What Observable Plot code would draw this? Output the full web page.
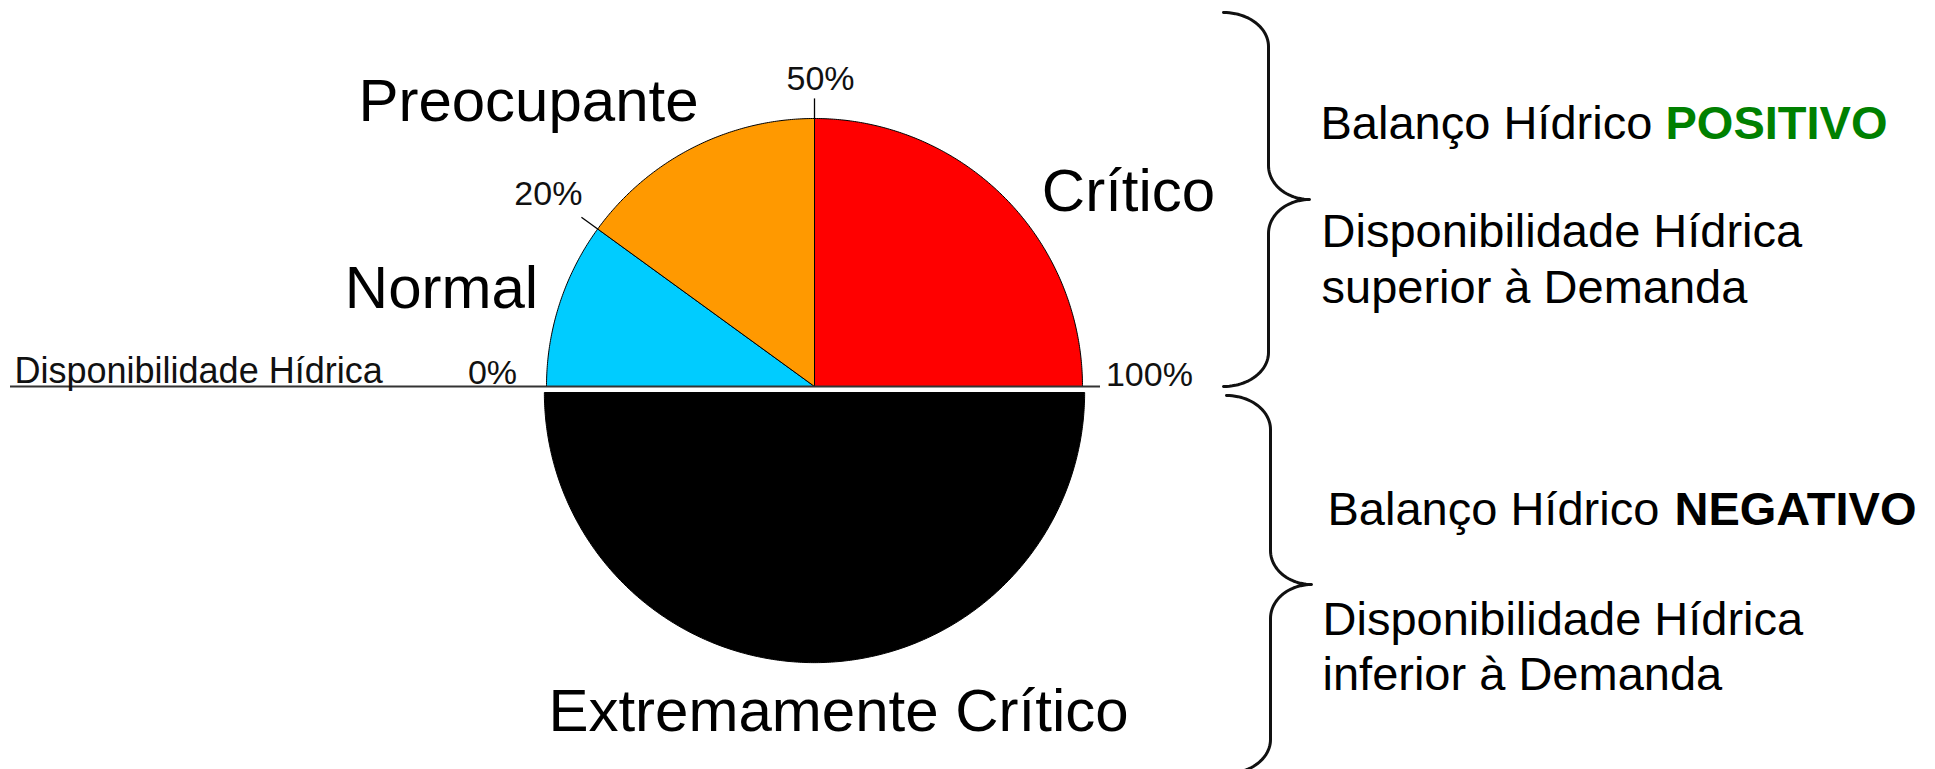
<!DOCTYPE html>
<html><head><meta charset="utf-8">
<script src="https://cdn.jsdelivr.net/npm/d3@7"></script>
<script src="https://cdn.jsdelivr.net/npm/@observablehq/plot@0.6"></script>
<style>html,body{margin:0;padding:0;background:#fff;} #chart svg{display:block}</style>
</head><body><div id="chart"></div>
<script>
// ---------------- DATA ----------------
const categories = ["Normal", "Preocupante", "Crítico", "Extremamente Crítico"];
const sliceStart = [0, 20, 50, 0];      // % Disponibilidade Hídrica
const sliceEnd   = [20, 50, 100, 100];
const sliceHalf  = ["positivo", "positivo", "positivo", "negativo"];
const sliceColors = ["#00CCFF", "#FF9900", "#FF0000", "#000000"];
const tickValues = [0, 20, 50, 100];
const tickLabels = ["0%", "20%", "50%", "100%"];
const axisLabel = "Disponibilidade Hídrica";
const sideTitle = ["Balanço Hídrico", "Balanço Hídrico"];
const sideStatus = ["POSITIVO", "NEGATIVO"];
const sideStatusColors = ["#008000", "#000000"];
const sideLine1 = ["Disponibilidade Hídrica", "Disponibilidade Hídrica"];
const sideLine2 = ["superior à Demanda", "inferior à Demanda"];

// ---------------- LAYOUT (pixels) ----------------
const W = 1935, H = 769, CX = 814, CY = 386, R = 268;
const ux = px => (px - CX) / R, uy = py => (CY - py) / R;
const FONT = "Liberation Sans, Arial, Helvetica, sans-serif";
const halves = {positivo: {cy: 0, r: 1}, negativo: {cy: uy(392), r: 1.008}};
const angle = (p, half) => half === "positivo" ? Math.PI * (1 - p / 100) : Math.PI * (1 + p / 100);
const catLabelPx = [[441, 307], [528, 120], [1128, 210], [838, 730]];
const tickLabelStyle = [
  {textAnchor: "end", dx: -8, dy: -3},
  {textAnchor: "middle", dx: -32, dy: -11},
  {textAnchor: "middle", dx: 6, dy: -7},
  {textAnchor: "start", dx: 2, dy: -1}
];
const sideTitlePx = [[1320, 138], [1327, 524]];
const sideStatusEnd = [1887, 1916];
const sideLine1Px = [[1321, 246], [1322, 634]];
const sideLine2Px = [[1321, 302], [1322, 689]];
const braces = [
  {top: 12, tip: 199, bottom: 386, xEnd: 1223, xV: 1268, xTip: 1309},
  {top: 395, tip: 584, bottom: 773, xEnd: 1226, xV: 1270, xTip: 1311}
];

// ---------------- GEOMETRY ----------------
const slicePoints = [];
categories.forEach((c, i) => {
  const h = halves[sliceHalf[i]];
  const push = (x, y) => slicePoints.push({category: c, color: sliceColors[i], x, y});
  push(0, h.cy);
  for (let p = sliceStart[i]; p <= sliceEnd[i] + 1e-9; p += 0.25) {
    const a = angle(p, sliceHalf[i]);
    push(h.r * Math.cos(a), h.cy + h.r * Math.sin(a));
  }
  push(0, h.cy);
});

const tickData = tickValues.map((v, i) => ({v, label: tickLabels[i], a: angle(v, "positivo")}));

const bracePoints = [];
braces.forEach((b, k) => {
  const rxE = b.xV - b.xEnd, rxT = b.xTip - b.xV, ry = 34;
  const pts = [];
  const N = 24;
  for (let j = 0; j <= N; j++) { const a = -Math.PI / 2 + (Math.PI / 2) * j / N; pts.push([b.xEnd + rxE * Math.cos(a), b.top + ry + ry * Math.sin(a)]); }
  for (let j = 0; j <= N; j++) { const a = Math.PI - (Math.PI / 2) * j / N; pts.push([b.xTip + rxT * Math.cos(a), b.tip - ry + ry * Math.sin(a)]); }
  for (let j = 0; j <= N; j++) { const a = -Math.PI / 2 - (Math.PI / 2) * j / N; pts.push([b.xTip + rxT * Math.cos(a), b.tip + ry + ry * Math.sin(a)]); }
  for (let j = 0; j <= N; j++) { const a = 0 + (Math.PI / 2) * j / N; pts.push([b.xEnd + rxE * Math.cos(a), b.bottom - ry + ry * Math.sin(a)]); }
  pts.forEach(([x, y]) => bracePoints.push({brace: k, x: ux(x), y: uy(y)}));
});

// ---------------- MARKS ----------------
const marks = [
  Plot.line(slicePoints, {x: "x", y: "y", z: "category", fill: "color", stroke: "#000", strokeWidth: 1, curve: "linear", strokeLinejoin: "miter"}),
  Plot.ruleY([0], {x1: ux(10), x2: ux(1100), stroke: "#333", strokeWidth: 2}),
  Plot.link(tickData.filter(d => d.v > 0 && d.v < 100), {
    x1: d => Math.cos(d.a), y1: d => Math.sin(d.a),
    x2: d => 1.075 * Math.cos(d.a), y2: d => 1.075 * Math.sin(d.a),
    stroke: "#000", strokeWidth: 1.3
  }),
  ...tickData.map((d, i) => Plot.text([d], {
    x: d => 1.08 * Math.cos(d.a), y: d => 1.08 * Math.sin(d.a), text: "label",
    lineAnchor: "bottom", fontSize: 34, fontFamily: FONT, fill: "#111", ...tickLabelStyle[i]
  })),
  Plot.text([axisLabel], {x: ux(14), y: uy(382), text: d => d, textAnchor: "start", lineAnchor: "bottom", fontSize: 36, fontFamily: FONT, fill: "#111"}),
  Plot.text(categories, {
    x: (d, i) => ux(catLabelPx[i][0]), y: (d, i) => uy(catLabelPx[i][1]), text: d => d,
    lineAnchor: "bottom", fontSize: 60, fontFamily: FONT, fill: "#000"
  }),
  Plot.line(bracePoints, {x: "x", y: "y", z: "brace", stroke: "#111", strokeWidth: 3, curve: "linear"}),
  Plot.text(sideTitle, {x: (d, i) => ux(sideTitlePx[i][0]), y: (d, i) => uy(sideTitlePx[i][1]), text: d => d, textAnchor: "start", lineAnchor: "bottom", fontSize: 47, fontFamily: FONT, fill: "#000"}),
  Plot.text(sideStatus, {x: (d, i) => ux(sideStatusEnd[i]), y: (d, i) => uy(sideTitlePx[i][1]), text: d => d, fill: (d, i) => sideStatusColors[i], textAnchor: "end", lineAnchor: "bottom", fontSize: 47, fontWeight: "bold", fontFamily: FONT}),
  Plot.text(sideLine1, {x: (d, i) => ux(sideLine1Px[i][0]), y: (d, i) => uy(sideLine1Px[i][1]), text: d => d, textAnchor: "start", lineAnchor: "bottom", fontSize: 47, fontFamily: FONT, fill: "#000"}),
  Plot.text(sideLine2, {x: (d, i) => ux(sideLine2Px[i][0]), y: (d, i) => uy(sideLine2Px[i][1]), text: d => d, textAnchor: "start", lineAnchor: "bottom", fontSize: 47, fontFamily: FONT, fill: "#000"})
];

const chart = Plot.plot({
  width: W, height: H,
  margin: 0,
  x: {domain: [ux(0), ux(W)], range: [0, W], axis: null},
  y: {domain: [uy(H), uy(0)], range: [H, 0], axis: null},
  style: {background: "#fff", fontFamily: FONT, overflow: "visible"},
  marks
});
document.getElementById("chart").appendChild(chart);
</script>
</body></html>
